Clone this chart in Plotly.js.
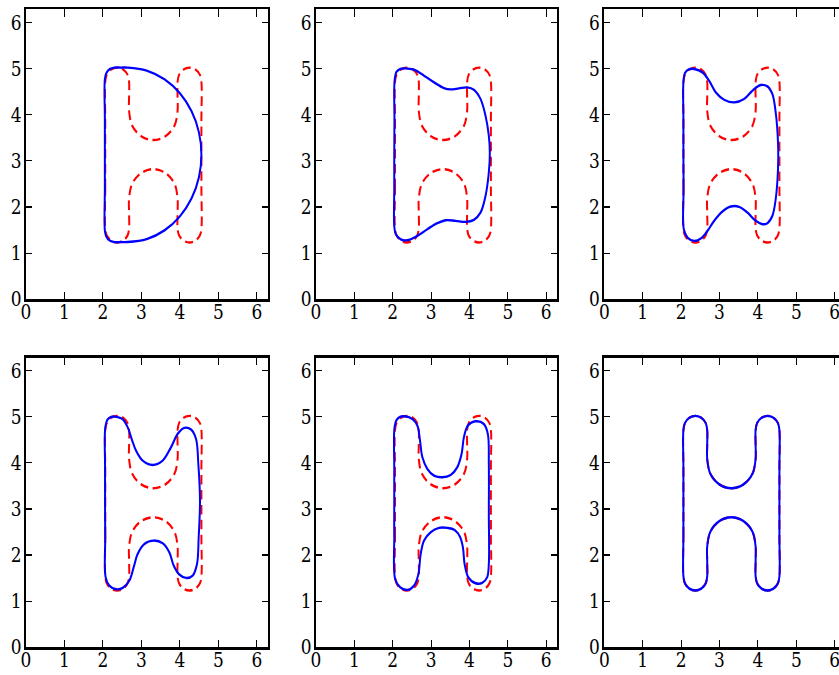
<!DOCTYPE html>
<html>
<head>
<meta charset="utf-8">
<script src="https://cdn.plot.ly/plotly-3.0.1.min.js"></script>
<style>
html,body{margin:0;padding:0;overflow:hidden;background:#fff}
#wrap{width:839px;height:675px;overflow:hidden;position:relative}
#plot{width:870px;height:562.5px;transform:scaleY(1.2);transform-origin:0 0}
</style>
</head>
<body>
<div id="wrap"><div id="plot"></div></div>
<script>
// Axis ticks
const TICKS = [0, 1, 2, 3, 4, 5, 6];
const TICK_LABELS = ['0', '1', '2', '3', '4', '5', '6'];
const RMAX = 6.2832;

// Target "H" outline (red dashed, also final blue)
const H_X = [2.06, 2.06, 2.06, 2.06, 2.06, 2.10, 2.215, 2.37, 2.525, 2.64, 2.68, 2.68, 2.68,
  2.76, 2.995, 3.31, 3.625, 3.86, 3.94, 3.94, 3.94, 3.98, 4.095, 4.25, 4.405, 4.52, 4.56,
  4.56, 4.56, 4.56, 4.56, 4.52, 4.405, 4.25, 4.095, 3.98, 3.94, 3.94, 3.94,
  3.86, 3.625, 3.31, 2.995, 2.76, 2.68, 2.68, 2.68, 2.64, 2.525, 2.37, 2.215, 2.10, 2.06];
const H_Y = [1.54, 2.40, 3.13, 3.90, 4.71, 4.865, 4.978, 5.02, 4.978, 4.865, 4.71, 4.40, 4.08,
  3.765, 3.534, 3.45, 3.534, 3.765, 4.08, 4.40, 4.71, 4.865, 4.978, 5.02, 4.978, 4.865, 4.71,
  3.90, 3.13, 2.40, 1.54, 1.385, 1.272, 1.23, 1.272, 1.385, 1.54, 1.86, 2.19,
  2.505, 2.736, 2.82, 2.736, 2.505, 2.19, 1.86, 1.54, 1.385, 1.272, 1.23, 1.272, 1.385, 1.54];

// Blue outlines, panels 1..5
const D_X = [2.05, 2.05, 2.05, 2.05, 2.05, 2.085, 2.175, 2.30, 2.47, 2.64, 3.137, 3.60, 3.998, 4.303, 4.495, 4.56,
  4.495, 4.303, 3.998, 3.60, 3.137, 2.64, 2.47, 2.30, 2.175, 2.085, 2.05];
const D_Y = [1.49, 2.40, 3.13, 3.90, 4.77, 4.895, 4.987, 5.02, 5.02, 5.02, 4.956, 4.767, 4.466, 4.075, 3.619, 3.13,
  2.641, 2.185, 1.794, 1.493, 1.304, 1.24, 1.24, 1.24, 1.273, 1.365, 1.49];

const B2_X = [2.04, 2.04, 2.04, 2.045, 2.05, 2.10, 2.20, 2.31, 2.557, 2.816, 3.077, 3.336, 3.51, 3.726, 3.943,
  4.116, 4.29, 4.42, 4.506, 4.532, 4.506, 4.42, 4.29, 4.116, 3.90, 3.64, 3.38, 3.163, 2.903, 2.643,
  2.383, 2.21, 2.08, 2.04];
const B2_Y = [1.59, 2.40, 3.13, 3.90, 4.75, 4.93, 4.995, 5.004, 4.975, 4.845, 4.70, 4.577, 4.548, 4.57, 4.592,
  4.541, 4.34, 3.977, 3.543, 3.18, 2.748, 2.24, 1.88, 1.721, 1.677, 1.70, 1.714, 1.649, 1.519, 1.374,
  1.28, 1.30, 1.41, 1.59];

const B3_X = [2.07, 2.065, 2.06, 2.06, 2.06, 2.10, 2.20, 2.34, 2.557, 2.73, 2.903, 3.12, 3.38, 3.64, 3.856,
  4.073, 4.246, 4.376, 4.463, 4.523, 4.523, 4.463, 4.376, 4.246, 4.116, 3.943, 3.726, 3.51, 3.293,
  3.077, 2.86, 2.686, 2.513, 2.34, 2.167, 2.07];
const B3_Y = [1.52, 2.40, 3.13, 3.90, 4.70, 4.90, 4.98, 4.99, 4.917, 4.736, 4.483, 4.324, 4.266, 4.339, 4.52,
  4.642, 4.613, 4.447, 4.05, 3.40, 2.82, 2.17, 1.808, 1.649, 1.627, 1.70, 1.88, 2.003, 2.01,
  1.902, 1.70, 1.482, 1.316, 1.265, 1.338, 1.52];

const B4_X = [2.07, 2.06, 2.055, 2.055, 2.06, 2.12, 2.20, 2.297, 2.513, 2.643, 2.747, 2.86, 3.033, 3.293, 3.553,
  3.77, 3.943, 4.116, 4.29, 4.42, 4.48, 4.523, 4.489, 4.446, 4.333, 4.16, 3.986, 3.84, 3.726, 3.553,
  3.32, 3.077, 2.903, 2.799, 2.686, 2.513, 2.34, 2.167, 2.07];
const B4_Y = [1.52, 2.40, 3.13, 3.90, 4.75, 4.94, 4.995, 5.004, 4.946, 4.772, 4.519, 4.266, 4.049, 3.955, 4.049,
  4.339, 4.628, 4.758, 4.722, 4.519, 3.977, 3.18, 2.386, 1.808, 1.555, 1.504, 1.577, 1.772, 2.06, 2.256,
  2.314, 2.242, 2.025, 1.735, 1.446, 1.287, 1.258, 1.338, 1.52];

const B5_X = [2.063, 2.04, 2.04, 2.04, 2.045, 2.10, 2.19, 2.297, 2.513, 2.643, 2.712, 2.773, 2.903, 3.077, 3.293,
  3.51, 3.683, 3.796, 3.856, 3.96, 4.16, 4.376, 4.48, 4.506, 4.506, 4.506, 4.463, 4.333, 4.16, 3.97,
  3.874, 3.83, 3.753, 3.614, 3.423, 3.206, 2.99, 2.816, 2.73, 2.67, 2.557, 2.383, 2.193, 2.063];
const B5_Y = [1.482, 2.40, 3.13, 3.90, 4.75, 4.93, 5.00, 5.011, 4.953, 4.808, 4.483, 4.122, 3.868, 3.724, 3.688,
  3.738, 3.905, 4.194, 4.555, 4.808, 4.902, 4.844, 4.627, 3.977, 2.893, 1.808, 1.518, 1.396, 1.388, 1.518,
  1.808, 2.17, 2.40, 2.545, 2.589, 2.589, 2.495, 2.314, 2.025, 1.59, 1.338, 1.244, 1.30, 1.482];

const BLUE_X = [D_X, B2_X, B3_X, B4_X, B5_X, H_X];
const BLUE_Y = [D_Y, B2_Y, B3_Y, B4_Y, B5_Y, H_Y];

const W = 870, H = 562.5;
const XDOM = [[26 / W, 267.7 / W], [316 / W, 557 / W], [604.3 / W, 845.6 / W]];
const YDOM = [[1 - 249.2 / H, 1 - 7.75 / H], [1 - 538.9 / H, 1 - 297.75 / H]];

function axis(domain, anchor, isX) {
  return {
    domain: domain, anchor: anchor, range: [0, RMAX], autorange: false,
    tickmode: 'array', tickvals: TICKS, ticktext: TICK_LABELS,
    ticks: 'inside', ticklen: 6, tickwidth: 1, tickcolor: '#000',
    ticklabelstandoff: isX ? -6 : -1,
    showline: true, linewidth: 2, linecolor: '#000', mirror: 'allticks',
    showgrid: false, zeroline: false, fixedrange: true,
    tickfont: {family: '"DejaVu Serif", "Liberation Serif", serif', size: 17, color: '#000'}
  };
}

const traces = [];
const layout = {
  width: W, height: H, margin: {l: 0, r: 0, t: 0, b: 0},
  paper_bgcolor: '#fff', plot_bgcolor: '#fff', showlegend: false
};
for (let i = 0; i < 6; i++) {
  const row = Math.floor(i / 3), col = i % 3;
  const sfx = i === 0 ? '' : String(i + 1);
  const xa = 'x' + sfx, ya = 'y' + sfx;
  layout['xaxis' + sfx] = axis(XDOM[col], ya, true);
  layout['yaxis' + sfx] = axis(YDOM[row], xa, false);
  traces.push({x: H_X, y: H_Y, xaxis: xa, yaxis: ya, mode: 'lines', hoverinfo: 'skip',
    line: {color: '#ff0000', width: 2, dash: '8px,4.5px', shape: 'spline', smoothing: 1}});
  traces.push({x: BLUE_X[i], y: BLUE_Y[i], xaxis: xa, yaxis: ya, mode: 'lines', hoverinfo: 'skip',
    line: {color: '#0000ff', width: 2, shape: 'spline', smoothing: 1}});
}
Plotly.newPlot('plot', traces, layout, {displayModeBar: false, staticPlot: true});
</script>
</body>
</html>
